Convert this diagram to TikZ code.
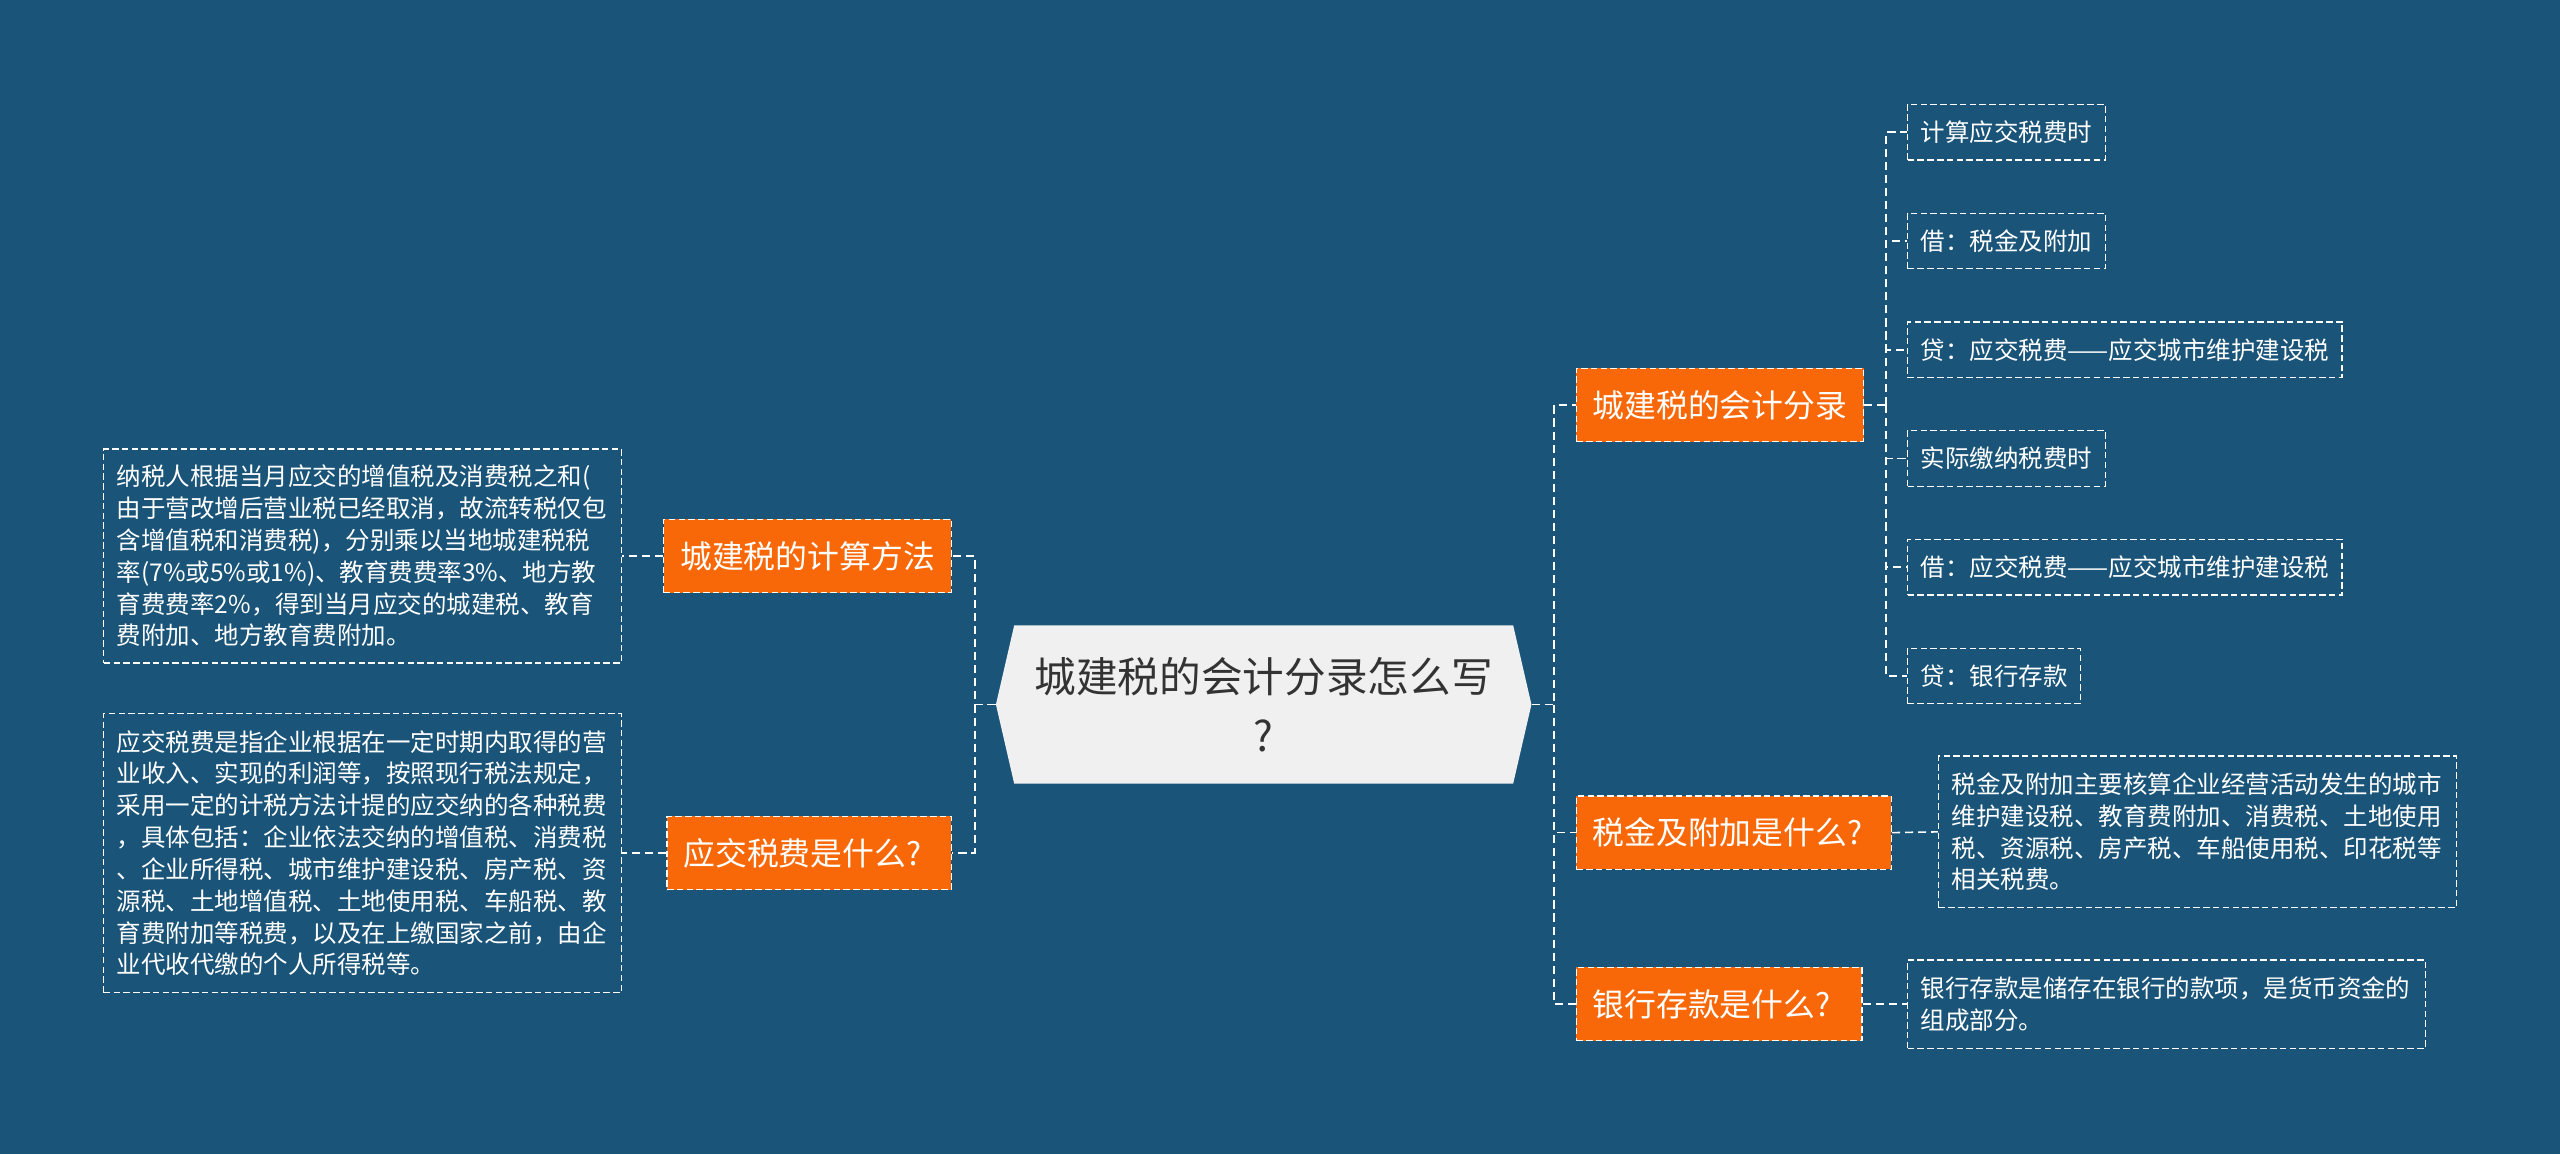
\documentclass[tikz,border=0pt]{standalone}
\usepackage{fontspec}
\setmainfont{Noto Sans CJK SC}
\usetikzlibrary{shapes.symbols,calc}
\definecolor{bgblue}{RGB}{26,84,120}
\definecolor{branchorange}{RGB}{249,104,8}
\definecolor{rootgray}{RGB}{240,240,240}
\definecolor{roottext}{RGB}{51,51,51}

\begin{document}
\begin{tikzpicture}[x=1pt,y=-1pt,
    link/.style={white,line width=1pt,dash pattern=on 5pt off 3pt},
    branch/.style={fill=branchorange,draw=white,line width=0.8pt,dash pattern=on 4pt off 2pt,
        text=white,font=\fontsize{19.5}{24}\selectfont,minimum height=45pt,inner xsep=10pt},
    leaf/.style={draw=white,line width=0.8pt,dash pattern=on 4pt off 2pt,text=white,
        font=\fontsize{15}{19.5}\selectfont,minimum height=34pt,inner xsep=8pt,anchor=west},
    note/.style={leaf,text width=301pt,align=left,inner ysep=0pt}]
        %
        \def\leafGap{66.6}

        \fill[bgblue] (0,0) rectangle (1568,707);

        \coordinate (jl) at (597,431.5);
        \coordinate (jr) at (952,431.5);
        \coordinate (je) at (1155,248);

        % centre
        \node[signal, signal to=west and east, signal pointer angle=154, fill=rootgray, text=roottext,
            minimum width=328pt, minimum height=97pt, align=center,
            font=\fontsize{25.5}{36}\selectfont] (root) at (774,431.5) {城建税的会计分录怎么写\\?};

        % left side
        \node[branch, anchor=east] (calc) at (583,340.5) {城建税的计算方法};
        \node[branch, anchor=east, text width=154pt, align=left] (what) at (583,522.5) {应交税费是什么?};

        \node[note, anchor=east, minimum height=131pt] (calcnote) at (381,340.5) {纳税人根据当月应交的增值税及消费税之和(\\
            由于营改增后营业税已经取消，故流转税仅包\\
            含增值税和消费税)，分别乘以当地城建税税\\
            率(7\%或5\%或1\%)、教育费费率3\%、地方教\\
            育费费率2\%，得到当月应交的城建税、教育\\
            费附加、地方教育费附加。};
        \node[note, anchor=east, minimum height=171pt] (whatnote) at (381,522.5) {应交税费是指企业根据在一定时期内取得的营\\
            业收入、实现的利润等，按照现行税法规定，\\
            采用一定的计税方法计提的应交纳的各种税费\\
            ，具体包括：企业依法交纳的增值税、消费税\\
            、企业所得税、城市维护建设税、房产税、资\\
            源税、土地增值税、土地使用税、车船税、教\\
            育费附加等税费，以及在上缴国家之前，由企\\
            业代收代缴的个人所得税等。};

        % right side
        \node[branch, anchor=west] (entry) at (965,248) {城建税的会计分录};
        \node[branch, anchor=west, text width=173pt, align=left] (tax) at (965,510) {税金及附加是什么?};
        \node[branch, anchor=west, text width=155pt, align=left] (bank) at (965,615) {银行存款是什么?};

        \foreach \txt [count=\i] in {计算应交税费时, 借：税金及附加, 贷：应交税费——应交城市维护建设税,
            实际缴纳税费时, 借：应交税费——应交城市维护建设税, 贷：银行存款}
            \node[leaf] (e\i) at (1168,{81+(\i-1)*\leafGap}) {\txt};

        \node[note, minimum height=93pt] (taxnote) at (1187,509.5) {税金及附加主要核算企业经营活动发生的城市\\
            维护建设税、教育费附加、消费税、土地使用\\
            税、资源税、房产税、车船使用税、印花税等\\
            相关税费。};
        \node[note, minimum height=54pt] (banknote) at (1168,615) {银行存款是储存在银行的款项，是货币资金的\\
            组成部分。};

        % connectors
        \draw[link] (root.west) -- (jl) |- (calc.east);
        \draw[link] (jl) |- (what.east);
        \draw[link] (calc.west) -- (calcnote.east);
        \draw[link] (what.west) -- (whatnote.east);

        \draw[link] (root.east) -- (jr) |- (entry.west);
        \draw[link] (jr) |- (tax.west);
        \draw[link] (jr) |- (bank.west);
        \draw[link] (tax.east) -- (taxnote.west);
        \draw[link] (bank.east) -- (banknote.west);

        \draw[link] (entry.east) -- (je);
        \foreach \i in {1,...,6}
            \draw[link] (je) |- (e\i.west);
    \end{tikzpicture}
\end{document}
